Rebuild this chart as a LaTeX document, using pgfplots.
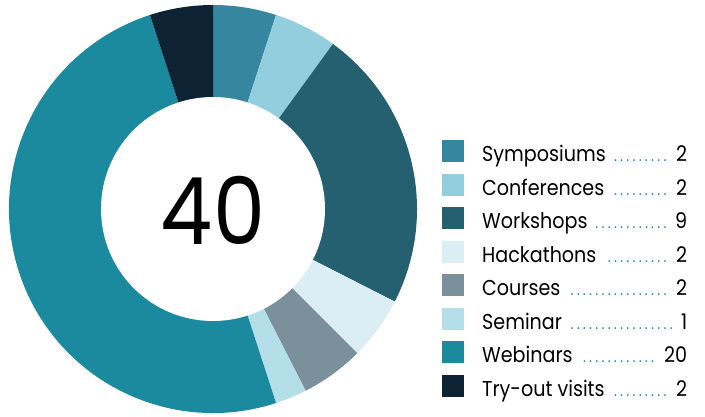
\documentclass[border=0pt]{standalone}
\usepackage{pgfplots}
\usepackage{pgfplotstable}
\pgfplotsset{compat=1.18}
\usepackage{fontspec}
\setmainfont{Poppins}[FakeStretch=0.89]
\definecolor{cSym}{HTML}{35869E}
\definecolor{cCon}{HTML}{93CEDF}
\definecolor{cWor}{HTML}{24606F}
\definecolor{cHac}{HTML}{DAEEF4}
\definecolor{cCou}{HTML}{7A909B}
\definecolor{cSem}{HTML}{B5DFE8}
\definecolor{cWeb}{HTML}{1C8A9E}
\definecolor{cTry}{HTML}{0D2333}
\definecolor{cDot}{HTML}{2A8A9E}
\pgfplotstableread[col sep=comma]{
name,value,color
Symposiums,2,cSym
Conferences,2,cCon
Workshops,9,cWor
Hackathons,2,cHac
Courses,2,cCou
Seminar,1,cSem
Webinars,20,cWeb
Try-out visits,2,cTry
}\datatable
\newcommand\slice[3]{% color, start, end
  \fill[#1] (axis cs:213,207) -- ++(#2:204pt) arc[start angle=#2, end angle=#3, radius=204pt] -- cycle;}
\newcommand\legentry[4]{% y, color, name, value
  \fill[#2] (axis cs:442,#1-11) rectangle (axis cs:464,#1+11);
  \node[anchor=base west, inner sep=0pt] at (axis cs:482,#1-10.5)
    {\fontsize{21.5}{24}\selectfont\makebox[205pt][l]{#3\hspace{6pt}{\color{cDot}\fontsize{16}{16}\selectfont\leaders\hbox to 6.2pt{\hss.\hss}\hfill}\hspace{6pt}#4}};}
\begin{document}
\begin{tikzpicture}
\begin{axis}[scale only axis, width=705pt, height=416pt,
  xmin=0, xmax=705, ymin=0, ymax=416, hide axis, clip=false]
\addplot[draw=none] coordinates {(0,0) (705,416)};
\pgfplotstablegetrowsof{\datatable}
\pgfmathtruncatemacro\N{\pgfplotsretval-1}
\xdef\tot{0}
\foreach \i in {0,...,\N}{%
  \pgfplotstablegetelem{\i}{value}\of{\datatable}%
  \pgfmathsetmacro\t{\tot+\pgfplotsretval}\xdef\tot{\t}}
\xdef\cum{0}
\foreach \i in {0,...,\N}{%
  \pgfplotstablegetelem{\i}{value}\of{\datatable}\let\v\pgfplotsretval
  \pgfplotstablegetelem{\i}{color}\of{\datatable}\let\c\pgfplotsretval
  \pgfplotstablegetelem{\i}{name}\of{\datatable}\let\n\pgfplotsretval
  \pgfmathsetmacro\a{90-360*\cum/\tot}%
  \pgfmathsetmacro\b{90-360*(\cum+\v)/\tot}%
  \pgfmathsetmacro\y{416-(151+33.57*\i)}%
  \edef\temp{\noexpand\slice{\c}{\a}{\b}\noexpand\legentry{\y}{\c}{\n}{\v}}\temp
  \pgfmathsetmacro\nc{\cum+\v}\xdef\cum{\nc}}
\fill[white] (axis cs:213,207) circle[radius=112pt];
\node[inner sep=0pt] at (axis cs:213,206) {\fontsize{93}{93}\selectfont 40};
\end{axis}
\pgfresetboundingbox
\useasboundingbox (0,0) rectangle (705pt,416pt);
\end{tikzpicture}
\end{document}
